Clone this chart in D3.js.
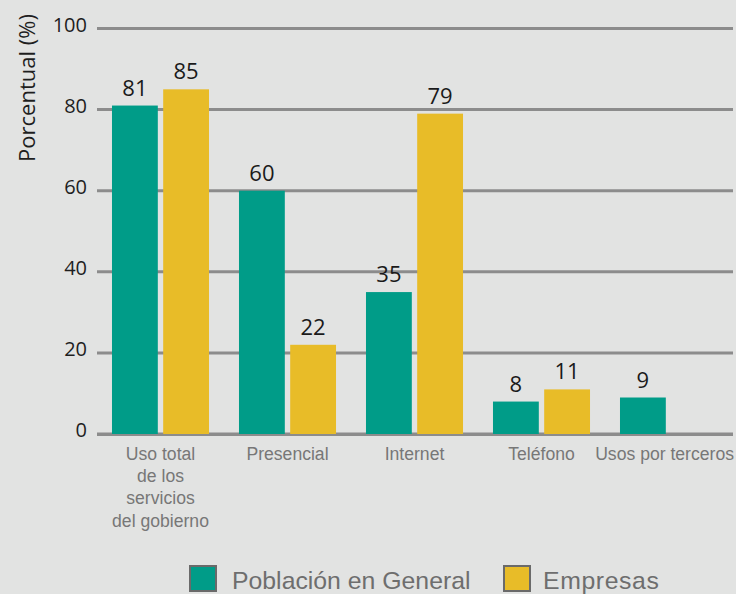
<!DOCTYPE html>
<html><head><meta charset="utf-8">
<script src="https://cdn.jsdelivr.net/npm/d3@7"></script>
<style>html,body{margin:0;padding:0;background:#e2e3e2;}svg{display:block;}</style>
</head><body>
<script>
const categories = [["Uso total","de los","servicios","del gobierno"],["Presencial"],["Internet"],["Teléfono"],["Usos por terceros"]];
const seriesNames = ["Población en General","Empresas"];
const poblacion = [81, 60, 35, 8, 9];
const empresas = [85, 22, 79, 11, null];
const yTicks = [0, 20, 40, 60, 80, 100];
const colors = ["#009c88", "#e8bc28"];

const W = 736, H = 594;
const svg = d3.select("body").append("svg").attr("width", W).attr("height", H);
svg.append("rect").attr("width", W).attr("height", H).attr("fill", "#e2e3e2");

const y = d3.scaleLinear().domain([0, 100]).range([434, 28.5]);
const x0 = d3.scaleBand().domain(d3.range(categories.length)).range([97, 732]).paddingInner(0.236).paddingOuter(0.118);
const x1 = d3.scaleBand().domain([0, 1]).range([0, x0.bandwidth()]).paddingInner(0.105);

// gridlines
svg.append("g").selectAll("line").data(yTicks).join("line")
  .attr("x1", 97).attr("x2", 733)
  .attr("y1", d => y(d)).attr("y2", d => y(d))
  .attr("stroke", "#8c8c8c").attr("stroke-width", 3);

// tick labels
svg.append("g").selectAll("text").data(yTicks).join("text")
  .attr("x", 87).attr("y", d => y(d) + 3)
  .attr("text-anchor", "end")
  .attr("font-family", "'Open Sans', sans-serif").attr("font-size", 20)
  .attr("fill", "#1e1e1e").text(d => d);

// y title
svg.append("text")
  .attr("transform", "translate(35,88) rotate(-90)")
  .attr("text-anchor", "middle")
  .attr("font-family", "'Open Sans', sans-serif").attr("font-size", 22)
  .attr("fill", "#1e1e1e").text("Porcentual (%)");

const data = [];
categories.forEach((c, i) => {
  [poblacion[i], empresas[i]].forEach((v, s) => { if (v != null) data.push({i, s, v}); });
});

// bars
svg.append("g").selectAll("rect").data(data).join("rect")
  .attr("x", d => x0(d.i) + x1(d.s))
  .attr("width", x1.bandwidth())
  .attr("y", d => y(d.v))
  .attr("height", d => y(0) - y(d.v))
  .attr("fill", d => colors[d.s]);

// zero line on top
svg.append("line").attr("x1", 97).attr("x2", 733).attr("y1", y(0) + 1).attr("y2", y(0) + 1)
  .attr("stroke", "#8c8c8c").attr("stroke-width", 2);

// value labels
svg.append("g").selectAll("text").data(data).join("text")
  .attr("x", d => x0(d.i) + x1(d.s) + x1.bandwidth() / 2)
  .attr("y", d => y(d.v) - 10)
  .attr("text-anchor", "middle")
  .attr("font-family", "'Open Sans', sans-serif").attr("font-size", 22)
  .attr("fill", "#1a1a1a").text(d => d.v);

// category labels
const cat = svg.append("g").selectAll("text").data(categories).join("text")
  .attr("y", 460)
  .attr("text-anchor", "middle")
  .attr("font-family", "'Liberation Sans', Arial, sans-serif").attr("font-size", 17.6)
  .attr("fill", "#777777");
cat.selectAll("tspan").data(d => d).join("tspan")
  .attr("dy", (d, j) => j === 0 ? 0 : 22.2)
  .text(d => d);
cat.each(function(d, i) {
  const t = d3.select(this);
  const wMax = d3.max(t.selectAll("tspan").nodes(), n => n.getComputedTextLength());
  const cx = Math.min(x0(i) + x0.bandwidth() / 2, W - 2 - wMax / 2);
  t.attr("x", cx);
  t.selectAll("tspan").attr("x", cx);
});

// legend
const legX = [190, 504];
const leg = svg.append("g").selectAll("g").data(seriesNames).join("g")
  .attr("transform", (d, i) => `translate(${legX[i]},566)`);
leg.append("rect").attr("width", 26).attr("height", 25)
  .attr("fill", (d, i) => colors[i]).attr("stroke", "#6a6a6a").attr("stroke-width", 2);
leg.append("text").attr("x", (d, i) => i === 0 ? 42 : 39).attr("y", 22.5)
  .attr("font-family", "'Liberation Sans', Arial, sans-serif").attr("font-size", 24.8)
  .attr("letter-spacing", (d, i) => i === 0 ? 0 : 0.6)
  .attr("fill", "#6e6e6e").text(d => d);
</script>
</body></html>
